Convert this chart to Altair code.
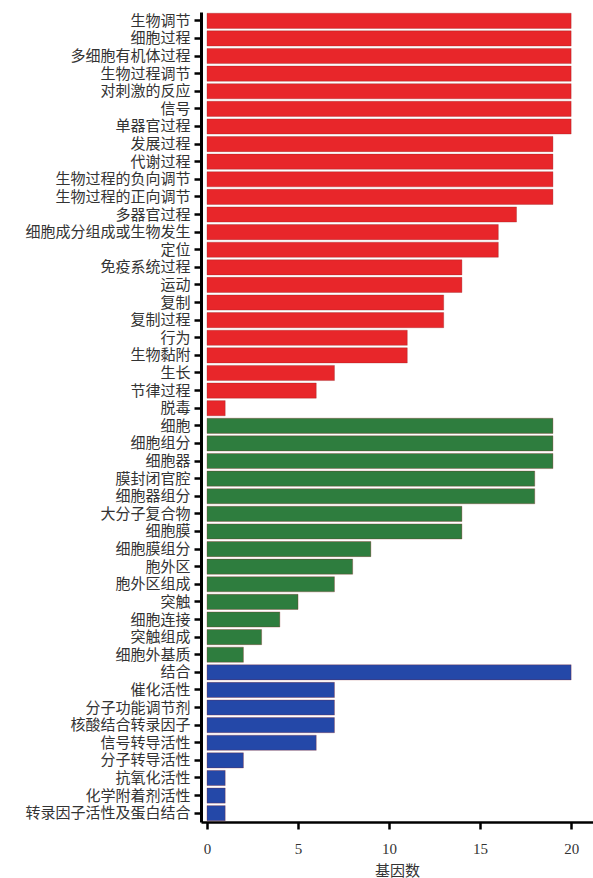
import altair as alt
import pandas as pd

categories = [
    "生物调节", "细胞过程", "多细胞有机体过程", "生物过程调节", "对刺激的反应", "信号",
    "单器官过程", "发展过程", "代谢过程", "生物过程的负向调节", "生物过程的正向调节",
    "多器官过程", "细胞成分组成或生物发生", "定位", "免疫系统过程", "运动", "复制",
    "复制过程", "行为", "生物黏附", "生长", "节律过程", "脱毒",
    "细胞", "细胞组分", "细胞器", "膜封闭官腔", "细胞器组分", "大分子复合物", "细胞膜",
    "细胞膜组分", "胞外区", "胞外区组成", "突触", "细胞连接", "突触组成", "细胞外基质",
    "结合", "催化活性", "分子功能调节剂", "核酸结合转录因子", "信号转导活性",
    "分子转导活性", "抗氧化活性", "化学附着剂活性", "转录因子活性及蛋白结合",
]
values = [
    20, 20, 20, 20, 20, 20, 20, 19, 19, 19, 19, 17, 16, 16, 14, 14, 13, 13, 11, 11, 7, 6, 1,
    19, 19, 19, 18, 18, 14, 14, 9, 8, 7, 5, 4, 3, 2,
    20, 7, 7, 7, 6, 2, 1, 1, 1,
]
groups = ["生物过程"] * 23 + ["细胞组分"] * 14 + ["分子功能"] * 9
group_names = ["生物过程", "细胞组分", "分子功能"]
group_colors = ["#e8262a", "#2e7d3e", "#2448a8"]
x_ticks = [0, 5, 10, 15, 20]

df = pd.DataFrame({"category": categories, "value": values, "group": groups})

font_num = "Liberation Serif, Noto Sans CJK SC"
font_cjk = "Noto Sans CJK SC"

chart = alt.Chart(df).mark_bar(
    stroke="#8a1a1a", strokeWidth=0.6, strokeOpacity=0.5
).encode(
    y=alt.Y("category:N", sort=categories, title=None,
            scale=alt.Scale(paddingInner=0.14, paddingOuter=0.07),
            axis=alt.Axis(labelFont=font_cjk, labelFontSize=15, labelColor="#333",
                          domainColor="#000", domainWidth=3, tickColor="#000",
                          tickWidth=2.5, tickSize=7, labelPadding=4, labelLimit=300)),
    x=alt.X("value:Q", title="基因数",
            scale=alt.Scale(domain=[-0.33, 21.2], nice=False, zero=False),
            axis=alt.Axis(values=x_ticks, format="d", grid=False, labelFont=font_num,
                          labelFontSize=15, labelColor="#333", domainColor="#000",
                          domainWidth=2.5, tickColor="#000", tickWidth=2.5, tickSize=7,
                          labelPadding=12, titleFont=font_cjk, titleFontSize=15,
                          titleFontWeight="normal", titleColor="#333", titlePadding=7)),
    color=alt.Color("group:N", scale=alt.Scale(domain=group_names, range=group_colors),
                    legend=None),
).properties(
    width=392, height=810,
    autosize=alt.AutoSizeParams(type="none"),
    padding={"left": 201, "top": 12, "right": 0, "bottom": 56},
).configure_view(stroke=None)

chart.save("out.html", embed_options={"renderer": "svg", "actions": False})
